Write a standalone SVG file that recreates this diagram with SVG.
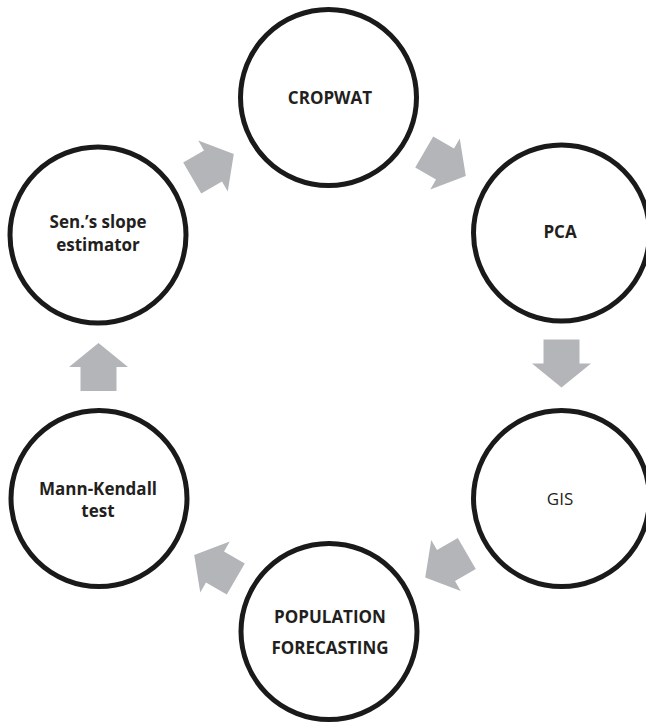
<svg xmlns="http://www.w3.org/2000/svg" width="646" height="722" viewBox="0 0 646 722">
<defs>
<style>
.node circle{fill:#fff;stroke:#1a1a1a;stroke-width:5}
.lbl{font-family:"Open Sans","Liberation Sans",sans-serif;font-size:17px;font-weight:700;fill:#231f20;text-anchor:middle}
.reg{font-weight:400}
.arr{fill:#b4b5b8}
</style>
<path id="arrow" d="M-24,-18 H0 V-29.5 L24,0 L0,29.5 V18 H-24 Z"/>
</defs>
<rect width="646" height="722" fill="#fff"/>
<g id="connectors">
<use href="#arrow" class="arr" transform="translate(213,166) rotate(-30)"/>
<use href="#arrow" class="arr" transform="translate(445,164) rotate(30)"/>
<use href="#arrow" class="arr" transform="translate(561.5,363.5) rotate(90)"/>
<use href="#arrow" class="arr" transform="translate(446,565.5) rotate(150)"/>
<use href="#arrow" class="arr" transform="translate(215,567) rotate(210)"/>
<use href="#arrow" class="arr" transform="translate(98.5,367) rotate(-90)"/>
</g>
<g id="cropwat" class="node">
<circle cx="328.5" cy="97.5" r="88"/>
<text class="lbl" x="330" y="104">CROPWAT</text>
</g>
<g id="pca" class="node">
<circle cx="561.5" cy="233" r="88"/>
<text class="lbl" x="560" y="238">PCA</text>
</g>
<g id="gis" class="node">
<circle cx="561.5" cy="498.5" r="88"/>
<text class="lbl reg" x="560" y="505">GIS</text>
</g>
<g id="population" class="node">
<circle cx="329" cy="631.5" r="88"/>
<text class="lbl" x="330" y="623">POPULATION</text>
<text class="lbl" x="330" y="654">FORECASTING</text>
</g>
<g id="mannkendall" class="node">
<circle cx="99" cy="498.5" r="88"/>
<text class="lbl" x="98" y="495">Mann-Kendall</text>
<text class="lbl" x="98" y="517">test</text>
</g>
<g id="sen" class="node">
<circle cx="98" cy="235" r="88"/>
<text class="lbl" x="98" y="228">Sen.’s slope</text>
<text class="lbl" x="98" y="251">estimator</text>
</g>
</svg>
